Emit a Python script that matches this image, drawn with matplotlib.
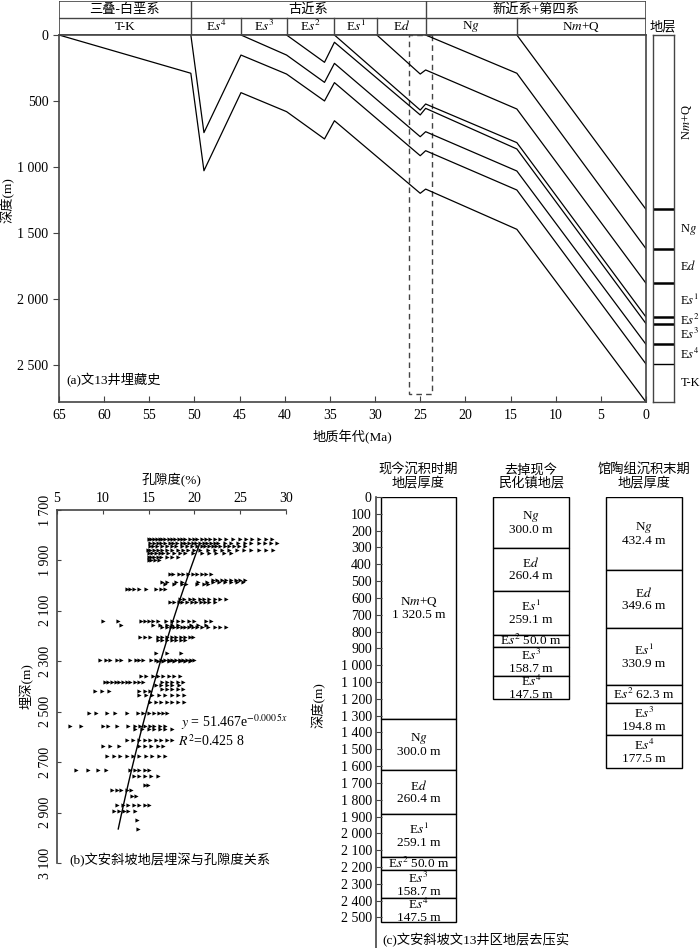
import numpy as np
import matplotlib
matplotlib.use("Agg")
import matplotlib.pyplot as plt
from matplotlib.patches import Rectangle

plt.rcParams['font.family'] = ['Liberation Serif', 'Noto Sans CJK SC']
plt.rcParams['mathtext.fontset'] = 'stix'
plt.rcParams['axes.unicode_minus'] = False

# ---------------- data: (a) burial history ----------------
period_bounds = [65, 50.4, 24.4, 0]
period_names = ['三叠-白垩系', '古近系', '新近系+第四系']
form_bounds = [65, 50.4, 44.85, 39.8, 34.5, 29.8, 24.4, 14.3, 0]
form_names = ['T-K', 'E$s^4$', 'E$s^3$', 'E$s^2$', 'E$s^1$', 'E$d$', 'N$g$', 'N$m$+Q']

# each horizon: ages (Ma) and depths (m)
tk_age = [65, 50.4, 48.95, 44.85, 39.8, 35.6, 34.5, 25.0, 24.4, 14.3, 0]
tk_dep = [0, 290, 1029, 437, 581, 788, 650, 1200, 1168, 1473, 2782]
es4_age = [50.4, 48.95, 44.85, 39.8, 35.6, 34.5, 25.0, 24.4, 14.3, 0]
es4_dep = [0, 740, 152, 296, 500, 361, 915, 877, 1175, 2494]
es3_age = [44.85, 39.8, 35.6, 34.5, 25.0, 24.4, 14.3, 0]
es3_dep = [0, 152, 359, 215, 771, 733, 1031, 2345]
es2_age = [39.8, 35.6, 34.5, 25.0, 24.4, 14.3, 0]
es2_dep = [0, 207, 55, 606, 556, 864, 2188]
es1_age = [34.5, 25.0, 24.4, 14.3, 0]
es1_dep = [0, 569, 523, 816, 2138]
ed_age = [29.8, 25.0, 24.4, 14.3, 0]
ed_dep = [0, 296, 265, 561, 1882]
ng_age = [24.4, 14.3, 0]
ng_dep = [0, 290, 1620]
nmq_age = [14.3, 0]
nmq_dep = [0, 1322]

box_age = [23.66, 26.25]
box_dep = 2720

strat_bounds = [0, 1322, 1620, 1882, 2138, 2188, 2345, 2494, 2782]
strat_names = ['N$m$+Q', 'N$g$', 'E$d$', 'E$s^1$', 'E$s^2$', 'E$s^3$', 'E$s^4$', 'T-K']

# ---------------- data: (b) porosity vs depth ----------------
scatter_rows = [
    (1816, [15.0, 15.3, 15.6, 15.9, 16.2, 16.5, 16.8, 17.2, 17.5, 17.9, 18.3, 18.6, 19.0, 19.5, 20.0,
            20.3, 20.8, 21.3, 21.7, 22.3, 22.8, 23.5, 24.2, 25.0, 25.6, 26.3, 27.0, 27.8, 28.5]),
    (1829, [15.2, 15.6, 16.0, 16.4, 16.8, 17.3, 17.7, 18.1, 18.6, 19.0, 19.4, 19.8, 20.2, 20.6, 21.0,
            21.4, 21.8, 22.2, 22.6, 23.3, 24.0, 24.8, 25.5, 26.2, 27.0, 27.7, 28.4, 29.0]),
    (1843, [15.1, 15.5, 15.9, 16.5, 17.0, 17.5, 18.0, 18.6, 19.2, 19.7, 20.3, 20.8, 21.2, 21.6, 22.0,
            22.4, 22.8, 23.3, 23.8, 24.3, 24.9, 25.5]),
    (1858, [14.9, 15.2, 15.6, 16.0, 16.5, 17.0, 17.6, 18.2, 18.8, 19.3, 20.0, 20.6, 21.5, 22.3, 23.0,
            23.8, 24.6, 25.4, 26.2, 27.0, 27.8, 28.6]),
    (1871, [15.0, 15.4, 15.8, 16.2, 16.6, 17.1, 17.8, 18.4, 19.0, 19.8, 20.8, 21.6, 22.4, 23.2, 24.0]),
    (1885, [15.0, 15.3, 15.6, 16.0, 16.4, 17.0, 17.6, 18.2]),
    (1898, [15.0, 15.3, 15.7, 16.1]),
    (1955, [17.3, 17.7, 18.3, 18.8, 19.3, 19.8, 20.3, 20.8, 21.3, 21.8]),
    (1977, [22.0, 22.5, 23.0, 23.5, 24.0, 24.5, 25.0, 25.5]),
    (1985, [16.5, 17.0, 18.0, 18.6, 20.4, 21.4, 22.0, 22.7, 23.3, 24.0, 24.6, 25.3]),
    (1993, [16.8, 17.8, 18.7, 19.1, 20.3, 21.0, 21.5]),
    (2014, [12.6, 13.0, 13.4, 14.0, 14.7, 15.8, 16.3, 16.8]),
    (2052, [18.4, 18.9, 19.5, 20.0, 20.6, 21.1, 21.6, 22.2, 22.8, 23.5]),
    (2063, [17.3, 17.8, 18.3, 18.7, 19.2, 19.7, 20.2, 20.7, 21.2, 21.6, 22.2]),
    (2142, [10.0, 11.7, 14.2, 14.6, 15.0, 15.5, 16.0, 16.9, 17.6, 18.2, 18.8, 19.4, 20.0, 21.3, 21.8]),
    (2158, [12.0, 15.5, 16.2, 17.0, 17.6, 18.2, 19.6, 20.4, 21.3]),
    (2165, [16.5, 17.0, 17.4, 17.8, 18.2, 18.6, 19.0, 19.4, 19.8, 20.3, 20.8, 21.5, 22.2, 22.8, 23.4]),
    (2202, [14.1, 14.6, 15.1, 16.0, 16.5, 17.0, 17.5, 18.0, 18.5, 19.0, 19.5, 19.9]),
    (2215, [16.0, 16.5, 17.0, 17.5, 18.0, 18.5, 19.0]),
    (2267, [15.8, 17.0, 18.5]),
    (2294, [9.7, 10.3, 10.8, 11.5, 12.0, 13.0, 13.6, 14.0, 14.4, 15.3, 15.8, 16.3, 16.8, 17.2, 17.6,
            18.0, 18.4, 18.8, 19.2, 19.6, 20.0]),
    (2300, [16.0, 16.6, 17.2, 17.8, 18.4, 19.0, 19.5]),
    (2357, [14.2, 14.7, 15.5, 16.0, 16.6, 17.2, 17.8, 18.4]),
    (2384, [10.2, 10.6, 11.0, 11.4, 11.8, 12.2, 12.6, 13.0, 13.5, 14.0, 14.4, 16.5, 17.0, 17.6, 18.2, 18.8]),
    (2393, [15.8, 16.4, 17.0, 17.6, 18.3]),
    (2410, [16.5, 17.0, 17.6, 18.2, 18.8]),
    (2419, [9.2, 9.9, 10.7, 14.0, 14.6, 15.2]),
    (2433, [14.0, 14.7, 15.4, 16.1, 16.8, 17.5, 18.2, 18.9]),
    (2463, [15.1, 15.8, 16.4, 17.0, 17.6, 18.2, 18.9]),
    (2505, [8.5, 9.3, 10.5, 11.3, 12.6, 13.8, 14.4, 15.0, 15.6, 16.1, 16.6, 17.0]),
    (2555, [6.4, 7.6, 10.0, 10.6, 11.6, 12.8, 13.5, 14.1, 14.6, 15.1, 15.6, 16.2, 16.8]),
    (2569, [13.5, 14.3, 15.0, 15.6, 16.2, 16.8, 17.5]),
    (2611, [12.6, 13.3, 14.0, 14.6, 15.2, 15.8, 16.4, 17.0, 17.5]),
    (2635, [10.0, 10.8, 11.8, 14.0, 14.6, 15.3, 16.0, 16.6]),
    (2677, [10.5, 11.2, 11.9, 12.6, 13.3, 14.0, 14.7, 15.4, 16.1, 16.8]),
    (2730, [7.1, 8.4, 9.5, 10.4, 13.0, 13.5, 14.0, 14.6, 15.0]),
    (2756, [13.4, 14.0, 14.6, 15.3, 16.0]),
    (2789, [14.6, 14.9]),
    (2809, [11.0, 11.5, 12.0, 12.6, 13.1]),
    (2835, [13.2, 13.6]),
    (2868, [11.5, 12.2, 12.8, 13.4, 14.0, 14.6, 15.0]),
    (2895, [11.2, 11.8, 12.3, 12.8, 13.5]),
    (2928, [13.7]),
    (2965, [13.8]),
]
fit_a = 51.467
fit_b = -0.0005
fit_depth_range = [1840, 2965]

# ---------------- data: (c) decompaction columns ----------------
layer_names = ['N$m$+Q', 'N$g$', 'E$d$', 'E$s^1$', 'E$s^2$', 'E$s^3$', 'E$s^4$']
now_thick = [1320.5, 300.0, 260.4, 259.1, 50.0, 158.7, 147.5]
now_bounds = [0, 1321, 1626, 1888, 2143, 2219, 2387, 2526]
strip_thick = [300.0, 260.4, 259.1, 50.0, 158.7, 147.5]
strip_bounds = [0, 301, 561, 818, 892, 1062, 1203]
gt_thick = [432.4, 349.6, 330.9, 62.3, 194.8, 177.5]
gt_bounds = [0, 432, 777, 1119, 1224, 1417, 1609]
col_titles = ['现今沉积时期\n地层厚度', '去掉现今\n民化镇地层', '馆陶组沉积末期\n地层厚度']

W, H = 700, 948
fig = plt.figure(figsize=(7, 9.48), dpi=100)


def box(l, t, r, b):
    return [l / W, 1 - b / H, (r - l) / W, (b - t) / H]


def spaced(v, fmt='{:,.0f}'):
    return fmt.format(v).replace(',', ' ')


spine_c = '#444444'

# ---- (a) header ----
hx = fig.add_axes(box(59, 1, 646, 35))
hx.set_xlim(65, 0)
hx.set_ylim(0, 2)
hx.axis('off')
hx.add_patch(Rectangle((0, 0), 65, 2, fill=False, ec=spine_c, lw=1.2))
hx.plot([65, 0], [1, 1], color=spine_c, lw=1.0)
for t in form_bounds[1:-1]:
    top = 2 if t in period_bounds else 1
    hx.plot([t, t], [0, top], color=spine_c, lw=1.0)
for i, name in enumerate(period_names):
    hx.text((period_bounds[i] + period_bounds[i + 1]) / 2, 1.5, name, ha='center', va='center', fontsize=9.5)
for i, name in enumerate(form_names):
    hx.text((form_bounds[i] + form_bounds[i + 1]) / 2, 0.5, name, ha='center', va='center', fontsize=9.5)

# ---- (a) main burial plot ----
ax = fig.add_axes(box(59, 35, 646, 402))
for a, d in [(tk_age, tk_dep), (es4_age, es4_dep), (es3_age, es3_dep), (es2_age, es2_dep),
             (es1_age, es1_dep), (ed_age, ed_dep), (ng_age, ng_dep), (nmq_age, nmq_dep)]:
    ax.plot(a, d, color='k', lw=0.9)
ax.add_patch(Rectangle((box_age[0], 0), box_age[1] - box_age[0], box_dep, fill=False,
                       ec='#444444', lw=1.0, ls=(0, (4, 3))))
ax.set_xlim(65, 0)
ax.set_ylim(2782, 0)
ax.set_xticks(range(65, -1, -5))
yt = [0, 500, 1000, 1500, 2000, 2500]
ax.set_yticks(yt)
ax.set_yticklabels([spaced(v) for v in yt])
ax.tick_params(axis='x', direction='in', length=4, labelsize=10, pad=5, color=spine_c)
ax.tick_params(axis='y', direction='out', length=4, labelsize=10, color=spine_c)
for s in ax.spines.values():
    s.set_color(spine_c)
    s.set_linewidth(1.2)
ax.set_xlabel('地质年代(Ma)', fontsize=9.5, labelpad=6)
fig.text(8 / W, 1 - 200 / H, '深度(m)', rotation=90, ha='center', va='center', fontsize=9.5)
ax.text(0.013, 0.06, '(a)文13井埋藏史', transform=ax.transAxes, fontsize=9.5, va='center')

# ---- (a) strata column ----
cx = fig.add_axes(box(653, 35, 674, 402))
cx.set_xlim(0, 1)
cx.set_ylim(2782, 0)
cx.set_xticks([])
cx.set_yticks([])
for s in cx.spines.values():
    s.set_color(spine_c)
    s.set_linewidth(1.0)
for i, b in enumerate(strat_bounds[1:-1]):
    cx.axhline(b, color='k', lw=1.8 if i < len(strat_bounds) - 3 else 1.0)
for i, name in enumerate(strat_names):
    mid = (strat_bounds[i] + strat_bounds[i + 1]) / 2
    rot = 90 if i == 0 else 0
    cx.text(1.3, mid, name, transform=cx.get_yaxis_transform(), rotation=rot,
            ha='left', va='center', fontsize=9)
fig.text(663 / W, 1 - 27 / H, '地层', ha='center', va='center', fontsize=9.5)

# ---- (b) porosity vs burial depth ----
bx = fig.add_axes(box(57, 510, 286, 863))
dep = np.concatenate([[d] * len(p) for d, p in scatter_rows])
por = np.concatenate([p for d, p in scatter_rows])
bx.plot(por, dep, ls='none', marker='>', ms=3.0, mew=0, color='k')
fd = np.linspace(fit_depth_range[0], fit_depth_range[1], 50)
bx.plot(fit_a * np.exp(fit_b * fd), fd, color='k', lw=1.0)
bx.set_xlim(5, 30)
bx.set_ylim(3100, 1700)
bx.xaxis.tick_top()
bx.xaxis.set_label_position('top')
bx.set_xticks([5, 10, 15, 20, 25, 30])
byt = list(range(1700, 3101, 200))
bx.set_yticks(byt)
bx.set_yticklabels([spaced(v) for v in byt], rotation=90, va='center')
bx.tick_params(direction='in', length=3, labelsize=10, color=spine_c)
bx.spines['right'].set_visible(False)
bx.spines['bottom'].set_visible(False)
for s in ['left', 'top']:
    bx.spines[s].set_color(spine_c)
    bx.spines[s].set_linewidth(1.2)
bx.set_xlabel('孔隙度(%)', fontsize=9.5, labelpad=6)
bx.set_ylabel('埋深(m)', fontsize=9.5, labelpad=4)
fig.text(181 / W, 1 - 722 / H, r'$y$ = 51.467e$^{-0.000\,5x}$', fontsize=10, va='center')
fig.text(178 / W, 1 - 741 / H, r'$R^2$=0.425 8', fontsize=10, va='center')
fig.text(69 / W, 1 - 860 / H, '(b)文安斜坡地层埋深与孔隙度关系', fontsize=9.5, va='center')

# ---- (c) decompaction columns ----
px = fig.add_axes(box(376, 497, 700, 948))
px.set_xlim(376, 700)
px.set_ylim(2682, 0)
pyt = list(range(0, 2501, 100))
px.set_yticks(pyt)
px.set_yticklabels([spaced(v) for v in pyt])
px.set_xticks([])
px.tick_params(axis='y', direction='in', length=4, labelsize=10, color=spine_c, pad=3)
for s in ['right', 'top', 'bottom']:
    px.spines[s].set_visible(False)
px.spines['left'].set_color(spine_c)
px.spines['left'].set_linewidth(1.2)
fig.text(319 / W, 1 - 705 / H, '深度(m)', rotation=90, ha='center', va='center', fontsize=9.5)

columns = [(418.5, 75, layer_names, now_thick, now_bounds),
           (531, 76, layer_names[1:], strip_thick, strip_bounds),
           (644, 76, layer_names[1:], gt_thick, gt_bounds)]
for k, (xc, w, names, thick, bnds) in enumerate(columns):
    for i in range(len(names)):
        top, bot = bnds[i], bnds[i + 1]
        px.bar(xc, bot - top, bottom=top, width=w, facecolor='white', edgecolor='k', lw=1.0)
        val = spaced(thick[i], '{:,.1f}')
        if bot - top < 115:
            txt = f'{names[i]} {val} m'
        else:
            txt = f'{names[i]}\n{val} m'
        px.text(xc, (top + bot) / 2, txt, ha='center', va='center', fontsize=9.5, linespacing=1.0)
    fig.text(xc / W, 1 - 477 / H, col_titles[k], ha='center', va='center', fontsize=9.5, linespacing=1.0)
fig.text(382 / W, 1 - 940 / H, '(c)文安斜坡文13井区地层去压实', fontsize=9.5, va='center')

fig.savefig('out.png', dpi=100)
